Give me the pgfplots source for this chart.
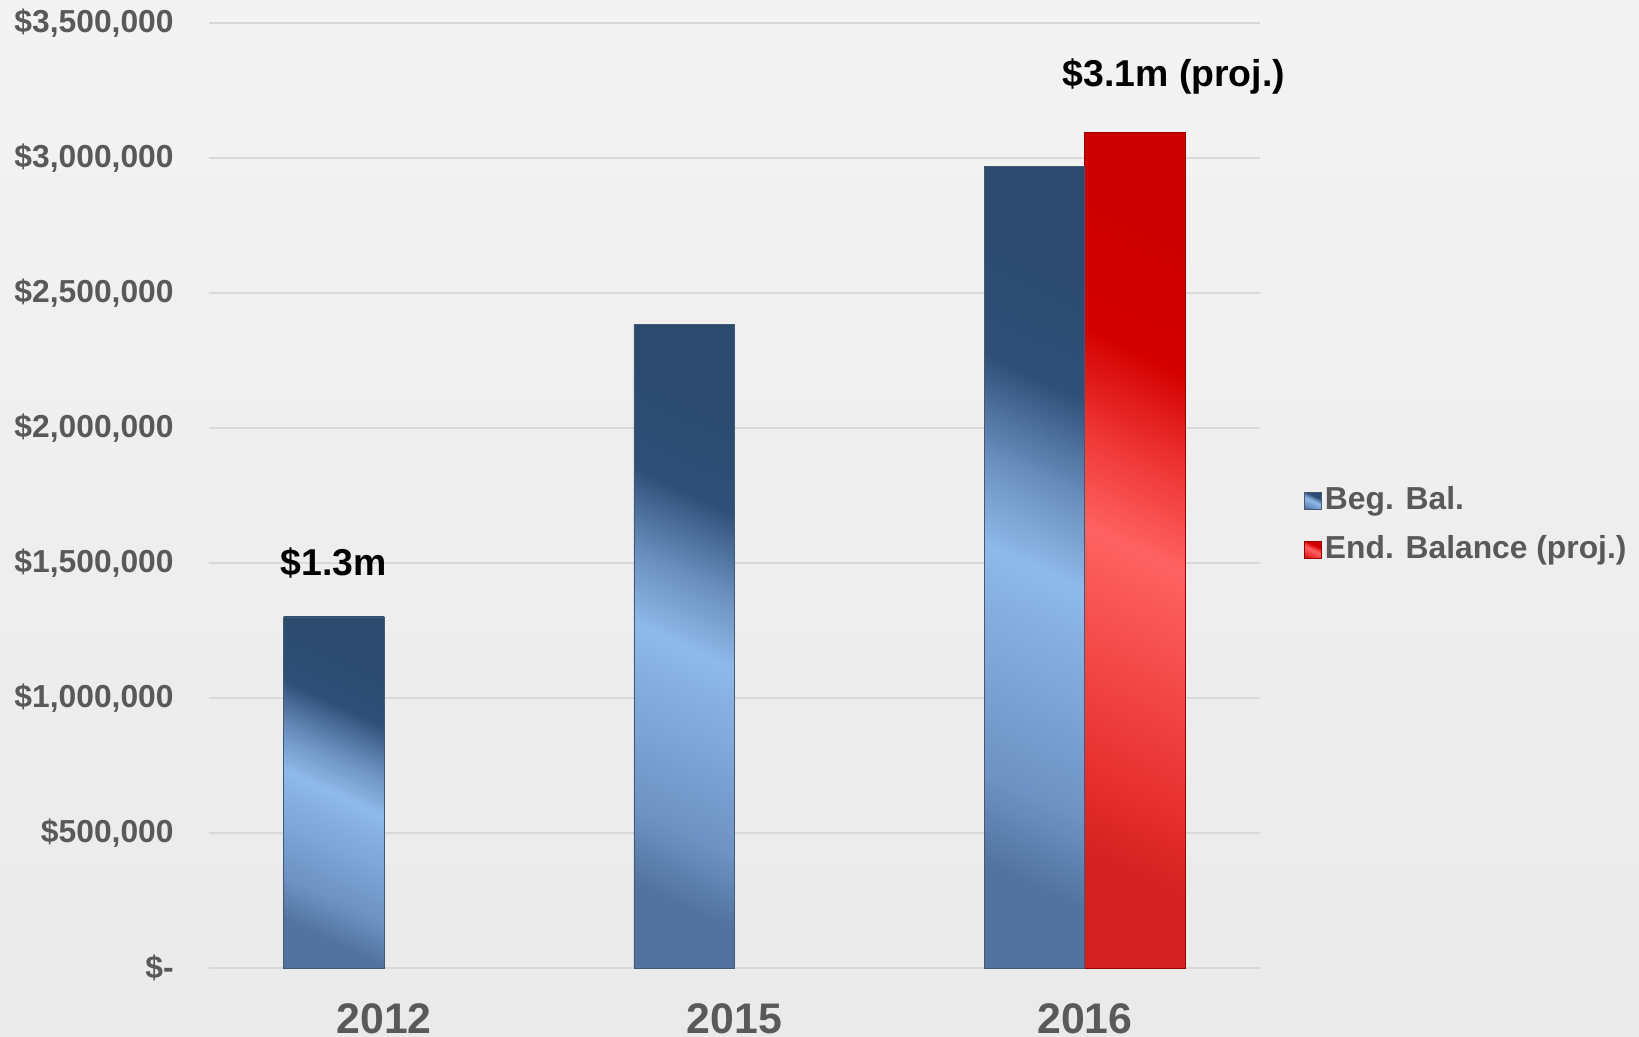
\documentclass[border=0pt]{standalone}
\usepackage{pgfplots}
\pgfplotsset{compat=1.18}
\usepackage{fontspec}
\setmainfont{Liberation Sans}

\definecolor{tickgray}{HTML}{595959}
\definecolor{gridgray}{HTML}{D9D9D9}
\definecolor{bgtop}{HTML}{F3F3F3}
\definecolor{bgbot}{HTML}{EAEAEA}
\definecolor{bA}{HTML}{52739F}
\definecolor{bB}{HTML}{6D92C3}
\definecolor{bC}{HTML}{8EB9E9}
\definecolor{bD}{HTML}{6A8FBE}
\definecolor{bE}{HTML}{2F4F78}
\definecolor{bF}{HTML}{2B4A6E}
\definecolor{rA}{HTML}{D42020}
\definecolor{rB}{HTML}{E83030}
\definecolor{rC}{HTML}{FF6262}
\definecolor{rD}{HTML}{F03838}
\definecolor{rE}{HTML}{D40000}
\definecolor{rF}{HTML}{CC0000}

\pgfdeclareverticalshading{bluebar}{100bp}{%
  color(0bp)=(bA); color(25bp)=(bA);
  color(32bp)=(bB); color(50bp)=(bC);
  color(57bp)=(bD); color(65bp)=(bE);
  color(75bp)=(bF); color(100bp)=(bF)}
\pgfdeclareverticalshading{redbar}{100bp}{%
  color(0bp)=(rA); color(25bp)=(rA);
  color(32bp)=(rB); color(50bp)=(rC);
  color(57bp)=(rD); color(65bp)=(rE);
  color(75bp)=(rF); color(100bp)=(rF)}

\pgfplotsset{
  sqlegend/.style={legend image code/.code={%
    \path[##1, line width=0.3pt] (0pt,-4.25pt) rectangle (8.5pt,4.25pt);
    \path (10pt,0pt);}},
  bluestyle/.style={ybar, bar width=0.287, bar shift=-0.1435, draw=bF!70!gray, line width=0.4pt,
    shading=bluebar, shading angle=-25, sqlegend},
  redstyle/.style={ybar, bar width=0.287, bar shift=0.1435, draw=red!60!black, line width=0.4pt,
    shading=redbar, shading angle=-25, sqlegend},
}

\begin{document}
\begin{tikzpicture}
\fill[top color=bgtop, bottom color=bgbot] (-104.5pt,-34.5pt) rectangle (715pt,484pt);
\begin{axis}[
  at={(0,0)}, anchor=south west,
  scale only axis, width=525.5pt, height=472.5pt,
  xmin=-0.5, xmax=2.5, ymin=0, ymax=3500000,
  xtick={0,1,2}, xticklabels={2012,2015,2016},
  ytick={0,500000,1000000,1500000,2000000,2500000,3000000,3500000},
  yticklabels={{\$-},{\$500,000},{\$1,000,000},{\$1,500,000},{\$2,000,000},{\$2,500,000},{\$3,000,000},{\$3,500,000}},
  scaled y ticks=false,
  axis line style={draw=none}, major tick length=0pt,
  ymajorgrids, grid style={gridgray, line width=1pt},
  yticklabel style={font=\bfseries\fontsize{15.9}{18}\selectfont, text=tickgray, inner sep=0pt, anchor=east, xshift=-17.5pt},
  xticklabel style={font=\bfseries\fontsize{21.4}{25}\selectfont, text=tickgray, inner sep=0pt, anchor=base, yshift=-33pt},
  legend style={at={(rel axis cs:1.036,0.468)}, anchor=west, draw=none, fill=none,
    font=\bfseries\fontsize{15.9}{18}\selectfont, text=tickgray,
    nodes={inner sep=0pt, text height=12pt, text depth=3.5pt}, row sep=9pt},
  legend cell align=left,
  clip=false,
]
% one plot per bar so that each bar gets its own shading
\addplot[bluestyle] coordinates {(0,1300000)};
\addlegendentry{Beg. Bal.}
\addplot[redstyle] coordinates {(2,3096000)};
\addlegendentry{End. Balance (proj.)}
\addplot[bluestyle, forget plot] coordinates {(1,2385000)};
\addplot[bluestyle, forget plot] coordinates {(2,2967000)};
\node[font=\bfseries\fontsize{18.7}{22}\selectfont] at (axis cs:-0.1435,1500000) {\$1.3m};
\node[font=\bfseries\fontsize{18.7}{22}\selectfont] at (axis cs:2.254,3300000) {\$3.1m (proj.)};
\end{axis}
\pgfresetboundingbox
\path (-104.5pt,-34.5pt) rectangle (715pt,484pt);
\end{tikzpicture}
\end{document}
